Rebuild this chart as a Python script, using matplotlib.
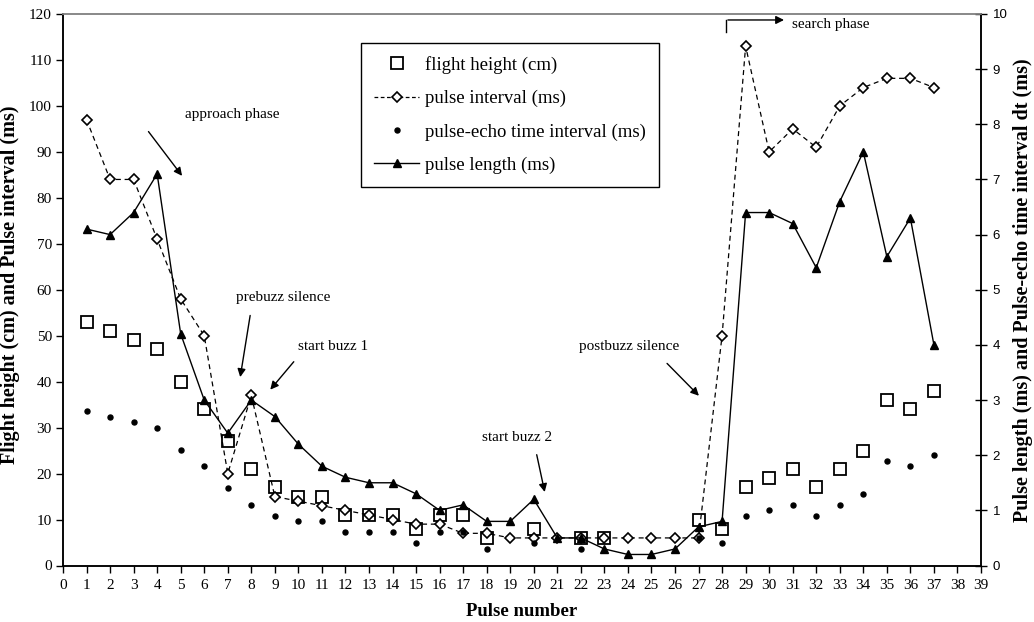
import numpy as np
import matplotlib
matplotlib.use("Agg")
import matplotlib.pyplot as plt
from matplotlib.lines import Line2D

nan = np.nan
pulse = list(range(1, 38))
flight_height = [53, 51, 49, 47, 40, 34, 27, 21, 17, 15,
                 15, 11, 11, 11, 8, 11, 11, 6, nan, 8,
                 nan, 6, 6, nan, nan, nan, 10, 8, 17, 19,
                 21, 17, 21, 25, 36, 34, 38]
pulse_interval = [97, 84, 84, 71, 58, 50, 20, 37, 15, 14,
                  13, 12, 11, 10, 9, 9, 7, 7, 6, 6,
                  6, 6, 6, 6, 6, 6, 6, 50, 113, 90,
                  95, 91, 100, 104, 106, 106, 104]
echo_interval = [2.8, 2.7, 2.6, 2.5, 2.1, 1.8, 1.4, 1.1, 0.9, 0.8,
                 0.8, 0.6, 0.6, 0.6, 0.4, 0.6, 0.6, 0.3, nan, 0.4,
                 nan, 0.3, nan, nan, nan, nan, 0.5, 0.4, 0.9, 1.0,
                 1.1, 0.9, 1.1, 1.3, 1.9, 1.8, 2.0]
pulse_length = [6.1, 6.0, 6.4, 7.1, 4.2, 3.0, 2.4, 3.0, 2.7, 2.2,
                1.8, 1.6, 1.5, 1.5, 1.3, 1.0, 1.1, 0.8, 0.8, 1.2,
                0.5, 0.5, 0.3, 0.2, 0.2, 0.3, 0.7, 0.8, 6.4, 6.4,
                6.2, 5.4, 6.6, 7.5, 5.6, 6.3, 4.0]

labels = ["flight height (cm)", "pulse interval (ms)",
          "pulse-echo time interval (ms)", "pulse length (ms)"]

serif = "Liberation Serif"
sans = "Liberation Sans"
plt.rcParams['font.family'] = serif

W, H = 1034, 622
fig = plt.figure(figsize=(W / 100, H / 100), dpi=100)
ax = fig.add_axes([63 / W, 1 - 565.5 / H, (981 - 63) / W, (565.5 - 14) / H])
ax2 = ax.twinx()

# left axis series
ax.plot(pulse, flight_height, linestyle='none', marker='s', markersize=8.5,
        markerfacecolor='none', markeredgecolor='black', markeredgewidth=1.3, zorder=2)
ax.plot(pulse, pulse_interval, linestyle=(0, (4, 3)), color='black', linewidth=0.9,
        marker='D', markersize=4.6, markerfacecolor='white', markeredgecolor='black',
        markeredgewidth=1.2, zorder=3)

# right axis series
ax2.plot(pulse, pulse_length, linestyle='-', color='black', linewidth=1.0,
         marker='^', markersize=5.6, markerfacecolor='black', markeredgecolor='black', zorder=3)
ax2.plot(pulse, echo_interval, linestyle='none', marker='o', markersize=3.6,
         markerfacecolor='black', markeredgecolor='black', zorder=4)

ax.set_xlim(0, 39)
ax.set_ylim(0, 120)
ax2.set_ylim(0, 10)
ax.set_xticks(range(0, 40))
ax.set_yticks(range(0, 121, 10))
ax2.set_yticks(range(0, 11))

ax.tick_params(axis='x', direction='out', length=5, width=1, labelsize=11, pad=5)
ax.tick_params(axis='y', direction='out', length=5, width=1, labelsize=11, pad=3)
ax2.tick_params(axis='y', direction='inout', length=9, width=1, labelsize=9.5, pad=4)
for t in ax2.get_yticklabels():
    t.set_fontfamily(sans)

for a in (ax, ax2):
    a.spines['top'].set_color('#888888')
    a.spines['top'].set_linewidth(1.2)
    a.spines['left'].set_linewidth(1.1)
    a.spines['right'].set_linewidth(1.1)
    a.spines['bottom'].set_linewidth(1.1)

ax_h = 565.5 - 14
ax_w = 981 - 63
ax.set_xlabel("Pulse number", fontsize=13.5, fontweight='bold')
ax.xaxis.label.set_va('center')
ax.xaxis.set_label_coords(0.5, (565.5 - 612) / ax_h)
ax.set_ylabel("Flight height (cm) and Pulse interval (ms)", fontsize=14.5,
              fontweight='bold')
ax.yaxis.set_label_coords((20 - 63) / ax_w, (565.5 - 285) / ax_h)
ax2.set_ylabel("Pulse length (ms) and Pulse-echo time interval dt (ms)", fontsize=14.5,
               fontweight='bold')
ax2.yaxis.set_label_coords((1013 - 63) / ax_w, (565.5 - 290) / ax_h)

# annotations (data coordinates of left axis)
afs = 11
arrow_kw = dict(arrowstyle='-|>', color='black', lw=1.0, mutation_scale=12)
ax.text(7.2, 98.2, "approach phase", fontsize=afs, ha='center', va='center')
ax.annotate("", xy=(5.13, 84.3), xytext=(3.56, 94.9), arrowprops=arrow_kw)

ax.text(9.37, 58.3, "prebuzz silence", fontsize=afs, ha='center', va='center')
ax.annotate("", xy=(7.51, 40.4), xytext=(7.97, 55.0), arrowprops=arrow_kw)

ax.text(10.0, 47.6, "start buzz 1", fontsize=afs, ha='left', va='center')
ax.annotate("", xy=(8.73, 37.8), xytext=(9.88, 44.8), arrowprops=arrow_kw)

ax.text(19.28, 27.8, "start buzz 2", fontsize=afs, ha='center', va='center')
ax.annotate("", xy=(20.49, 15.4), xytext=(20.1, 24.7), arrowprops=arrow_kw)

ax.text(24.05, 47.6, "postbuzz silence", fontsize=afs, ha='center', va='center')
ax.annotate("", xy=(27.1, 36.5), xytext=(25.58, 44.4), arrowprops=arrow_kw)

ax.text(30.97, 117.8, "search phase", fontsize=afs, ha='left', va='center')
ax.plot([28.17, 28.17], [116.0, 118.7], color='black', lw=1.0, clip_on=False)
ax.annotate("", xy=(30.75, 118.7), xytext=(28.13, 118.7), arrowprops=arrow_kw)

handles = [
    Line2D([], [], linestyle='none', marker='s', markersize=8.5, markerfacecolor='none',
           markeredgecolor='black', markeredgewidth=1.3),
    Line2D([], [], linestyle=(0, (3, 2)), color='black', linewidth=0.9, marker='D',
           markersize=4.6, markerfacecolor='white', markeredgecolor='black', markeredgewidth=1.2),
    Line2D([], [], linestyle='none', marker='o', markersize=3.6, markerfacecolor='black',
           markeredgecolor='black'),
    Line2D([], [], linestyle='-', color='black', linewidth=1.0, marker='^', markersize=5.6,
           markerfacecolor='black', markeredgecolor='black'),
]
leg = ax2.legend(handles, labels, loc='upper left',
                 bbox_to_anchor=((361 - 63) / ax_w, (565.5 - 43) / ax_h),
                 fontsize=13.5, frameon=True, fancybox=False, framealpha=1,
                 edgecolor='black', handlelength=2.4, handletextpad=0.3,
                 labelspacing=0.85, borderpad=0.7, borderaxespad=0)
leg.get_frame().set_linewidth(1.0)
leg.set_zorder(10)

fig.savefig("out.png", dpi=100)
